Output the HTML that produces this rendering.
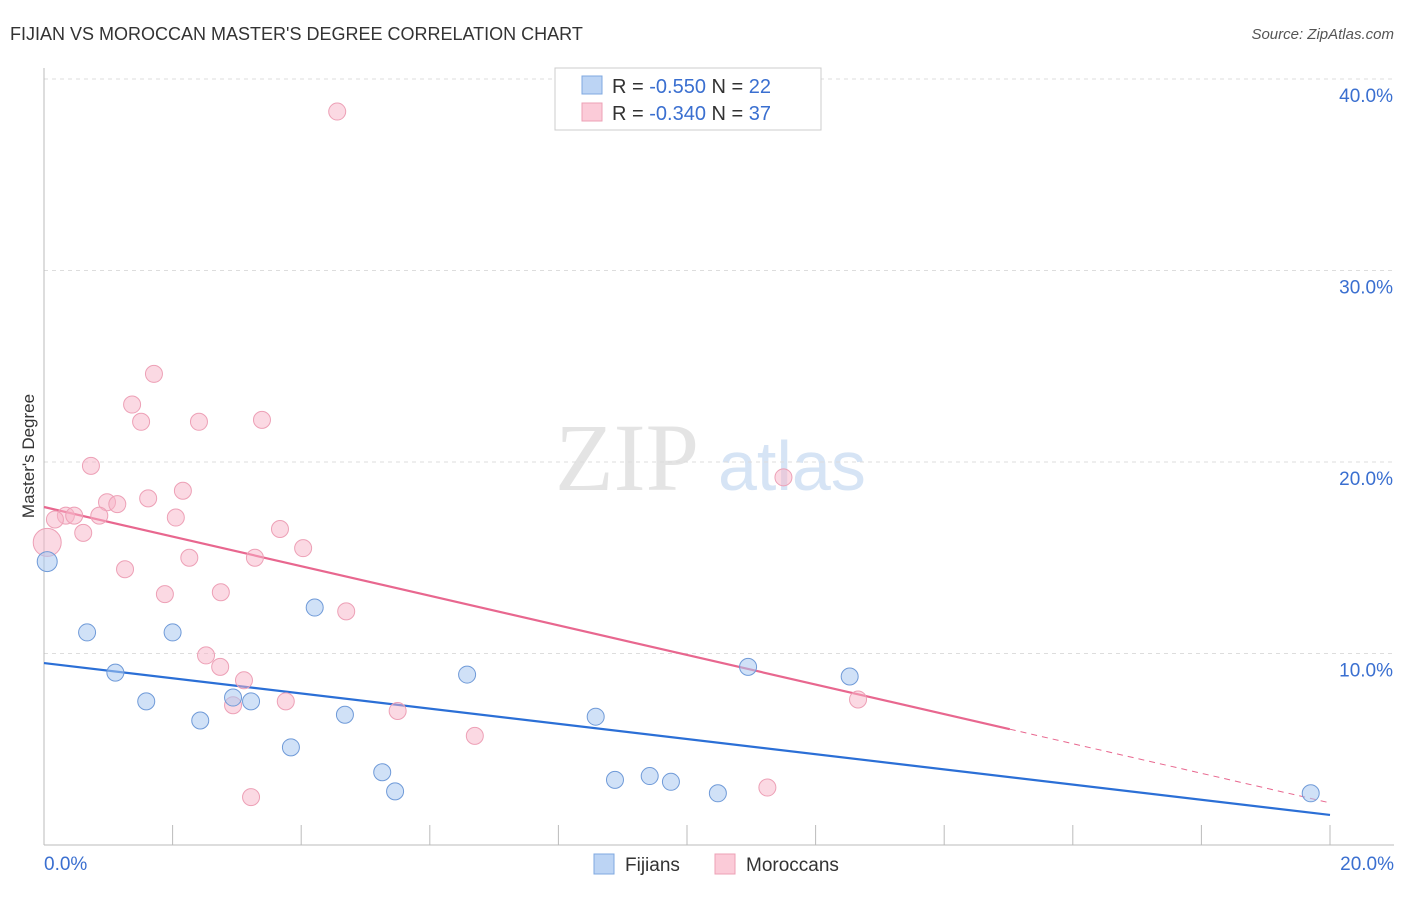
<!DOCTYPE html>
<html><head><meta charset="utf-8"><style>
body{margin:0;background:#fff;font-family:"Liberation Sans",sans-serif}
svg text{font-family:"Liberation Sans",sans-serif}
</style></head><body>
<svg id="c" width="1406" height="892" xmlns="http://www.w3.org/2000/svg">
<text x="10" y="40" font-size="18" fill="#333">FIJIAN VS MOROCCAN MASTER'S DEGREE CORRELATION CHART</text>
<text x="1394" y="39" font-size="15" fill="#555" text-anchor="end" font-style="italic">Source: ZipAtlas.com</text>
<text x="555" y="490" font-size="96" fill="#e4e4e4" font-family="Liberation Serif" style="font-family:'Liberation Serif',serif">ZIP</text>
<text x="718" y="490" font-size="70" fill="#d6e4f5">atlas</text>
<text transform="translate(34,456) rotate(-90)" font-size="17" fill="#333" text-anchor="middle">Master's Degree</text>
<g id="grid"></g><g id="axes"></g><g id="lines"></g><g id="pts"></g>
<g>
<rect x="555" y="68" width="266" height="62" fill="#fff" stroke="#ccc"/>
<rect x="582" y="76" width="20" height="18" fill="#bcd4f4" stroke="#7fa8e0"/>
<text x="612" y="93" font-size="20" fill="#333">R = <tspan fill="#3a6fd0">-0.550</tspan>   N = <tspan fill="#3a6fd0">22</tspan></text>
<rect x="582" y="103" width="20" height="18" fill="#fbcbd8" stroke="#eda0b6"/>
<text x="612" y="120" font-size="20" fill="#333">R = <tspan fill="#3a6fd0">-0.340</tspan>   N = <tspan fill="#3a6fd0">37</tspan></text>
</g>
<g>
<rect x="594" y="854" width="20" height="20" fill="#bcd4f4" stroke="#7fa8e0"/>
<text x="625" y="871" font-size="19" fill="#333">Fijians</text>
<rect x="715" y="854" width="20" height="20" fill="#fbcbd8" stroke="#eda0b6"/>
<text x="746" y="871" font-size="19" fill="#333">Moroccans</text>
</g>
</svg>
<script>
const fijX=[0.05,0.67,1.11,1.59,2.0,2.43,2.94,3.22,3.84,4.21,4.68,5.26,5.46,6.58,8.58,8.88,9.42,9.75,10.48,10.95,12.53,19.7];
const fijY=[14.8,11.1,9.0,7.5,11.1,6.5,7.7,7.5,5.1,12.4,6.8,3.8,2.8,8.9,6.7,3.4,3.6,3.3,2.7,9.3,8.8,2.7];
const morX=[4.56,1.71,1.37,1.51,2.41,3.39,0.73,2.16,1.62,0.98,1.14,0.86,0.34,0.47,0.17,2.05,0.61,0.05,3.67,4.03,2.26,3.28,1.26,1.88,2.75,4.7,2.52,2.74,3.11,2.94,3.76,5.5,6.7,3.22,11.5,12.66,11.25];
const morY=[38.3,24.6,23.0,22.1,22.1,22.2,19.8,18.5,18.1,17.9,17.8,17.2,17.2,17.2,17.0,17.1,16.3,15.8,16.5,15.5,15.0,15.0,14.4,13.1,13.2,12.2,9.9,9.3,8.6,7.3,7.5,7.0,5.7,2.5,19.2,7.6,3.0];
const fijTrend=[9.5,1.57];
const morTrend=[17.65,2.2];
const yTicks=[10,20,30,40];
const xTickLabels=["0.0%","20.0%"];
const sx=v=>44+v*64.3, sy=v=>845-v*19.15;
const NS="http://www.w3.org/2000/svg";
function mk(t,a,p){const e=document.createElementNS(NS,t);for(const k in a)e.setAttribute(k,a[k]);document.getElementById(p).appendChild(e);return e;}
yTicks.forEach(t=>{
 const l=mk('line',{x1:44,x2:1394,y1:sy(t),y2:sy(t),stroke:'#ddd','stroke-dasharray':'4,4'},'grid');
 
 
 const tx=mk('text',{x:1393,y:sy(t)+23,'font-size':19,fill:'#3a6fd0','text-anchor':'end'},'grid');
 tx.textContent=t.toFixed(1)+'%';
 
 
});
mk('line',{x1:44,x2:44,y1:68,y2:845,stroke:'#bbb'},'axes');
mk('line',{x1:44,x2:1394,y1:845,y2:845,stroke:'#bbb'},'axes');
for(let i=1;i<=10;i++){const l=mk('line',{x1:sx(i*2),x2:sx(i*2),y1:825,y2:845,stroke:'#bbb'},'axes');
 
 }
[[0,'start',44],[20,'end',1394]].forEach((d,i)=>{const t=mk('text',{x:d[2],y:870,'font-size':19,fill:'#3a6fd0','text-anchor':d[1]},'axes');t.textContent=xTickLabels[i];
 
 });
const ty=(tr,x)=>tr[0]+(tr[1]-tr[0])*x/20;
let l=mk('line',{x1:sx(0),y1:sy(ty(fijTrend,0)),x2:sx(20),y2:sy(ty(fijTrend,20)),stroke:'#2b6fd6','stroke-width':2.2},'lines');


l=mk('line',{x1:sx(0),y1:sy(ty(morTrend,0)),x2:sx(15.02),y2:sy(ty(morTrend,15.02)),stroke:'#e8678f','stroke-width':2.2},'lines');


l=mk('line',{x1:sx(15.02),y1:sy(ty(morTrend,15.02)),x2:sx(20),y2:sy(ty(morTrend,20)),stroke:'#e8678f','stroke-width':1,'stroke-dasharray':'6,5'},'lines');


morX.forEach((x,i)=>{const c=mk('circle',{cx:sx(x),cy:sy(morY[i]),r:i==17?14:8.5,fill:'rgba(248,180,200,0.5)',stroke:'#eda0b6','stroke-width':1},'pts');
 
 });
fijX.forEach((x,i)=>{const c=mk('circle',{cx:sx(x),cy:sy(fijY[i]),r:i==0?10:8.5,fill:'rgba(170,200,240,0.55)',stroke:'#6f9ad8','stroke-width':1},'pts');
 
 });
</script>
</body></html>
